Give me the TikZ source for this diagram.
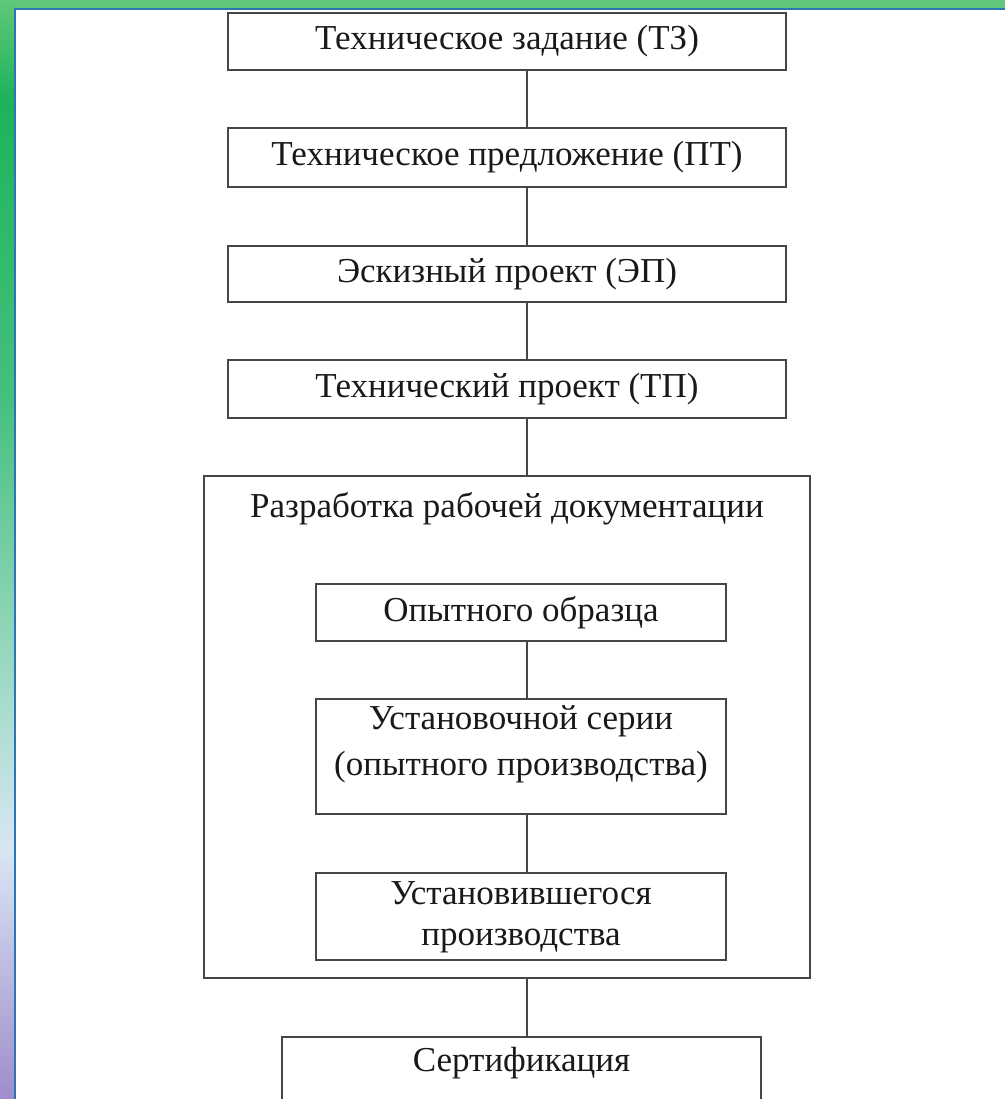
\documentclass[tikz,border=0pt]{standalone}
\usepackage{fontspec}
\setmainfont{Liberation Serif}
\definecolor{linegray}{RGB}{70,70,70}
\definecolor{textblack}{RGB}{25,25,25}
\definecolor{topgreen}{RGB}{96,199,123}
\definecolor{gA}{RGB}{96,199,123}
\definecolor{gB}{RGB}{29,179,90}
\definecolor{gC}{RGB}{69,192,126}
\definecolor{gD}{RGB}{166,220,203}
\definecolor{gE}{RGB}{216,230,244}
\definecolor{gF}{RGB}{160,140,203}
\definecolor{frameblue}{RGB}{46,117,182}
\begin{document}
\begin{tikzpicture}[x=1pt,y=-1pt,
  box/.style={draw=linegray, line width=1.8pt, fill=white, rectangle, inner sep=0pt,
    font=\fontsize{35}{44}\selectfont, text=textblack, align=center},
  lbl/.style={inner sep=0pt, text=textblack, align=center, font=\fontsize{35}{44}\selectfont},
  conn/.style={draw=linegray, line width=1.8pt}]
\useasboundingbox (0,0) rectangle (1005,1099);
% frame
\fill[topgreen] (0,0) rectangle (1005,10);
\shade[top color=gA, bottom color=gB] (0,0) rectangle (16,100);
\shade[top color=gB, bottom color=gC] (0,100) rectangle (16,400);
\shade[top color=gC, bottom color=gD] (0,400) rectangle (16,700);
\shade[top color=gD, bottom color=gE] (0,700) rectangle (16,850);
\shade[top color=gE, bottom color=gF] (0,850) rectangle (16,1099);
\fill[white] (16,10) rectangle (1005,1099);
\draw[frameblue, line width=2pt] (1005,9) -- (15,9) -- (15,1099);
% axis for connectors
\coordinate (axis) at (527,0);
% boxes
\node[box, minimum width=558pt, minimum height=57pt] (tz) at (507,41.5) {Техническое задание (ТЗ)};
\node[box, minimum width=558pt, minimum height=59pt] (pt) at (507,157.5) {Техническое предложение (ПТ)};
\node[box, minimum width=558pt, minimum height=56pt] (ep) at (507,274) {Эскизный проект (ЭП)};
\node[box, minimum width=558pt, minimum height=58pt] (tp) at (507,389) {Технический проект (ТП)};
\node[box, minimum width=606pt, minimum height=502pt] (rrd) at (507,727) {};
\node[lbl, anchor=base] (rrdt) at (507,517) {Разработка рабочей документации};
\node[box, minimum width=410pt, minimum height=57pt] (oo) at (521,612.5) {Опытного образца};
\node[box, minimum width=410pt, minimum height=115pt] (us) at (521,756.5) {};
\node[lbl, font=\fontsize{35}{46}\selectfont] (ust) at (521,744) {Установочной серии\\(опытного производства)};
\node[box, minimum width=410pt, minimum height=87pt] (up) at (521,916.5) {};
\node[lbl, font=\fontsize{35}{41}\selectfont] (upt) at (521,917) {Установившегося\\производства};
\node[box, minimum width=479pt, minimum height=100pt] (cert) at (521.5,1087) {};
\node[lbl] (certt) at (521.5,1063) {Сертификация};
% connectors
\draw[conn] (tz.south -| axis) -- (pt.north -| axis);
\draw[conn] (pt.south -| axis) -- (ep.north -| axis);
\draw[conn] (ep.south -| axis) -- (tp.north -| axis);
\draw[conn] (tp.south -| axis) -- (rrd.north -| axis);
\draw[conn] (oo.south -| axis) -- (us.north -| axis);
\draw[conn] (us.south -| axis) -- (up.north -| axis);
\draw[conn] (rrd.south -| axis) -- (cert.north -| axis);
\end{tikzpicture}
\end{document}
